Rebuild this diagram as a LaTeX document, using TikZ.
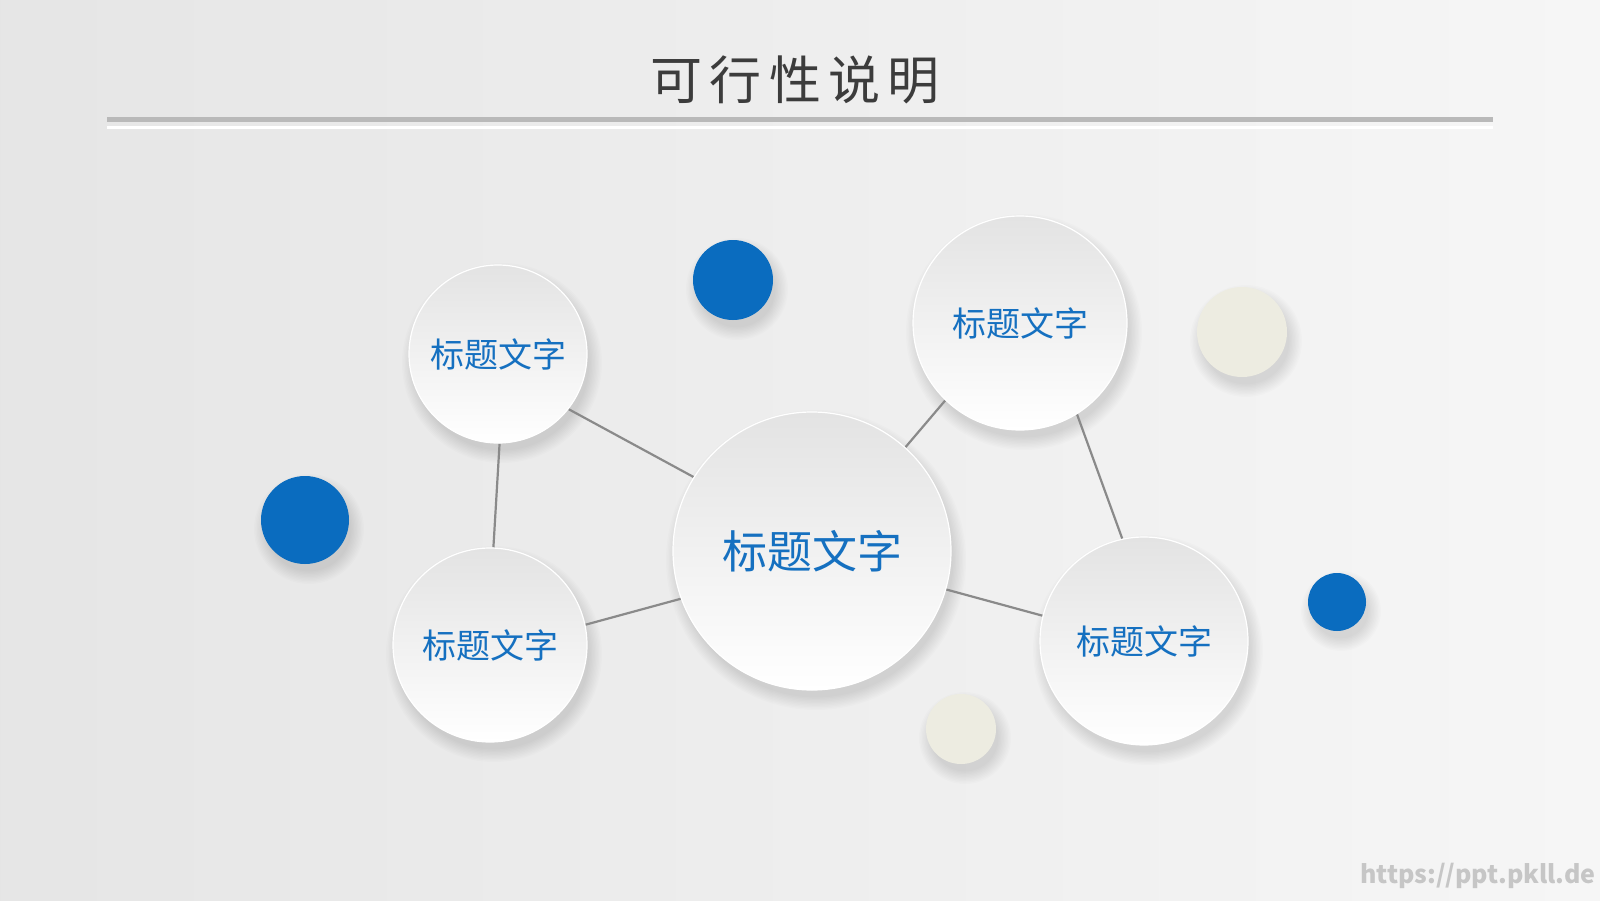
\documentclass[tikz,border=0pt]{standalone}
\usepackage{fontspec}
\newfontfamily\cjk{Noto Sans CJK SC}
\usetikzlibrary{backgrounds}

\definecolor{dotblue}{HTML}{0A6CBF}
\definecolor{dotcream}{HTML}{EDECE1}
\definecolor{textblue}{HTML}{1570C0}
\definecolor{titlegray}{HTML}{3C3C3C}
\definecolor{linkgray}{HTML}{8A8A8A}

\begin{document}
\begin{tikzpicture}[x=1pt,y=-1pt]
    \tikzstyle{bubble}=[circle,inner sep=0pt,top color=gray!22,bottom color=white,draw=white,line width=1.2pt,text=textblue,font=\cjk\fontsize{34}{34}\selectfont]
    \tikzstyle{dot}=[circle,inner sep=0pt,draw=none]
    \tikzstyle{link}=[draw=linkgray,line width=2.2pt]
    \useasboundingbox (0,0) rectangle (1600,900);

    % title
    \node[text=titlegray,font=\cjk\fontsize{52}{52}\selectfont\addfontfeature{LetterSpace=14}] (title) at (795,80) {可行性说明};

    % bubbles
    \node[bubble,minimum size=278pt,font=\cjk\fontsize{45}{45}\selectfont] (C) at (812,551) {标题文字};
    \node[bubble,minimum size=178pt] (TL) at (498,354) {标题文字};
    \node[bubble,minimum size=194pt] (BL) at (490,645) {标题文字};
    \node[bubble,minimum size=214pt] (TR) at (1020,323) {标题文字};
    \node[bubble,minimum size=208pt] (BR) at (1144,641) {标题文字};

    % small dots
    \foreach \name/\x/\y/\d/\col in {b1/733/280/80/dotblue, b2/305/520/88/dotblue, b3/1337/602/58/dotblue, w1/1242/332/90/dotcream, w2/961/729/70/dotcream}
        \node[dot,fill=\col,minimum size=\d pt] (\name) at (\x,\y) {};

    \node[text=gray!45,font=\cjk\bfseries\fontsize{25}{25}\selectfont] (mark) at (1478,876) {https://ppt.pkll.de};

    \begin{scope}[on background layer]
        \shade[left color=gray!20,right color=gray!7] (0,0) rectangle (1600,900);
        \draw[gray!55,line width=5pt] (107,119) -- (1493,119);
        \draw[white,line width=3pt] (107,127) -- (1493,127);

        % soft shadows
        \foreach \x/\y/\r in {812/551/139, 498/354/89, 490/645/97, 1020/323/107, 1144/641/104, 733/280/40, 305/520/44, 1337/602/29, 1242/332/45, 961/729/35}
            \foreach \k in {1,...,10}
                \fill[black,opacity=0.012] (\x+4,\y+9) circle (\r-3+1.4*\k);

        \draw[link] (TL.-38) -- (C.148);
        \draw[link] (TL.-89) -- (BL.88);
        \draw[link] (BL.12) -- (C.200);
        \draw[link] (C.48) -- (TR.226);
        \draw[link] (TR.-58) -- (BR.102);
        \draw[link] (C.-16) -- (BR.166);
    \end{scope}
\end{tikzpicture}
\end{document}
